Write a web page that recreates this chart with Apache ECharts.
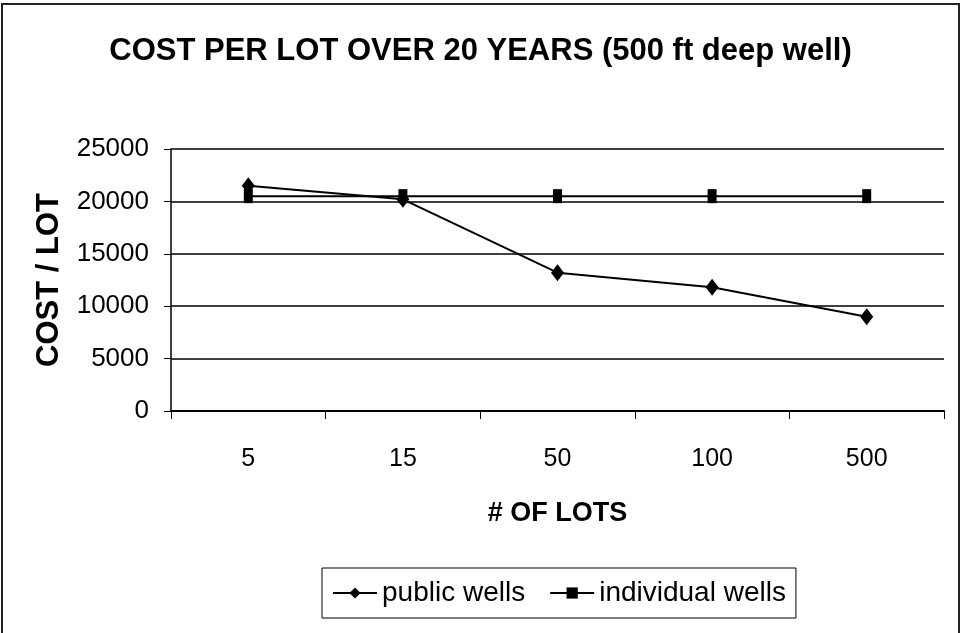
<!DOCTYPE html>
<html>
<head>
<meta charset="utf-8">
<script src="https://cdn.jsdelivr.net/npm/echarts@6/dist/echarts.min.js"></script>
<style>
  html, body { margin: 0; padding: 0; background: #fff; }
  #chart { width: 961px; height: 633px; }
</style>
</head>
<body>
<div id="chart"></div>
<script>
var lots = ['5', '15', '50', '100', '500'];
var publicWells = [21500, 20200, 13200, 11800, 9000];
var individualWells = [20500, 20500, 20500, 20500, 20500];

var chart = echarts.init(document.getElementById('chart'));
var font = 'Liberation Sans, Arial, sans-serif';

var option = {
  backgroundColor: '#fff',
  animation: false,
  title: {
    text: 'COST PER LOT OVER 20 YEARS (500 ft deep well)',
    left: 'center',
    top: 31,
    textStyle: { fontFamily: font, fontSize: 31, fontWeight: 'bold', color: '#000' }
  },
  graphic: [{
    type: 'rect',
    shape: { x: 2, y: 4, width: 957, height: 640 },
    style: { fill: 'none', stroke: '#222', lineWidth: 2 },
    silent: true
  }],
  legend: {
    left: 322,
    top: 568,
    padding: [11, 10, 11, 10],
    itemGap: 24,
    itemWidth: 44,
    itemHeight: 14,
    borderColor: '#000',
    borderWidth: 1,
    textStyle: { fontFamily: font, fontSize: 28, color: '#000' },
    data: ['public wells', 'individual wells']
  },
  grid: { left: 171, right: 17, top: 149, bottom: 222, containLabel: false },
  xAxis: {
    type: 'category',
    data: lots,
    boundaryGap: true,
    name: '# OF LOTS',
    nameLocation: 'middle',
    nameGap: 89,
    nameTextStyle: { fontFamily: font, fontSize: 27, fontWeight: 'bold', color: '#000' },
    axisLine: { lineStyle: { color: '#000', width: 2 } },
    axisTick: { show: true, length: 8, lineStyle: { color: '#000', width: 1 } },
    axisLabel: { margin: 36, fontFamily: font, fontSize: 25, color: '#000' }
  },
  yAxis: {
    type: 'value',
    min: 0,
    max: 25000,
    interval: 5000,
    name: 'COST / LOT',
    nameLocation: 'middle',
    nameRotate: 90,
    nameGap: 106,
    nameTextStyle: { fontFamily: font, fontSize: 31, fontWeight: 'bold', color: '#000' },
    axisLine: { show: true, lineStyle: { color: '#000', width: 1.5 } },
    axisTick: { show: true, length: 7, lineStyle: { color: '#000' } },
    axisLabel: {
      margin: 22,
      fontFamily: font,
      fontSize: 26,
      color: '#000',
      formatter: function (v) { return String(v); }
    },
    splitLine: { show: true, lineStyle: { color: '#000', width: 1.5 } }
  },
  series: [
    {
      name: 'public wells',
      type: 'line',
      data: publicWells,
      symbol: 'diamond',
      symbolSize: [13, 17],
      lineStyle: { color: '#000', width: 2 },
      itemStyle: { color: '#000' }
    },
    {
      name: 'individual wells',
      type: 'line',
      data: individualWells,
      symbol: 'rect',
      symbolSize: [9, 14],
      lineStyle: { color: '#000', width: 2 },
      itemStyle: { color: '#000' }
    }
  ]
};

chart.setOption(option);
</script>
</body>
</html>
